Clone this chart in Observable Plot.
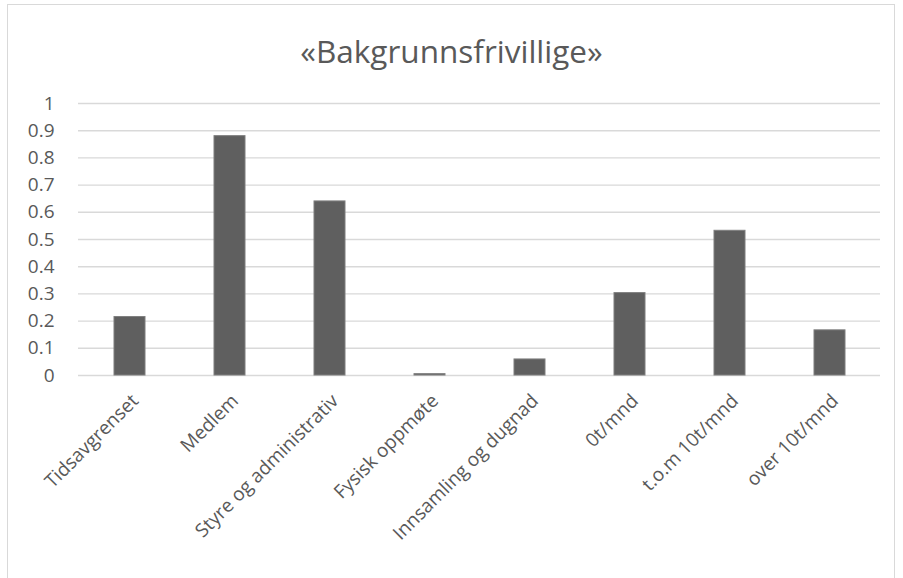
<!DOCTYPE html>
<html><head><meta charset="utf-8">
<script src="https://cdn.jsdelivr.net/npm/d3@7"></script>
<script src="https://cdn.jsdelivr.net/npm/@observablehq/plot@0.6"></script>
<style>
body{margin:0;background:#fff;}
#wrap{position:relative;width:903px;height:578px;overflow:hidden;font-family:"Open Sans",sans-serif;}
#frame{position:absolute;left:7px;top:4px;width:888px;height:600px;border:1px solid #d9d9d9;box-sizing:border-box;}
#title{position:absolute;left:0;top:30px;width:903px;text-align:center;font-size:31.5px;color:#595959;line-height:42px;}
#chart{position:absolute;left:0;top:0;}
</style></head><body>
<div id="wrap"><div id="frame"></div><div id="title">«Bakgrunnsfrivillige»</div><div id="chart"></div></div>
<script>
const categories = ["Tidsavgrenset","Medlem","Styre og administrativ","Fysisk oppmøte","Innsamling og dugnad","0t/mnd","t.o.m 10t/mnd","over 10t/mnd"];
const values = [0.215, 0.88, 0.64, 0.005, 0.059, 0.303, 0.532, 0.166];
const yTicks = [0, 0.1, 0.2, 0.3, 0.4, 0.5, 0.6, 0.7, 0.8, 0.9, 1];
const data = categories.map((c, i) => ({category: c, value: values[i]}));
const chart = Plot.plot({
  width: 903, height: 578,
  marginTop: 103, marginBottom: 203, marginLeft: 78, marginRight: 23,
  style: {fontFamily: '"Open Sans", sans-serif', fontSize: "19px", color: "#595959", background: "transparent"},
  x: {domain: categories, paddingInner: 0.69, paddingOuter: 0.345, axis: null},
  y: {domain: [0, 1], axis: null},
  marks: [
    Plot.gridY(yTicks, {stroke: "#d9d9d9", strokeOpacity: 1, strokeWidth: 1.4}),
    Plot.axisY(yTicks, {tickSize: 0, tickPadding: 24, label: null, tickFormat: d => String(d), fontSize: 19, fill: "#595959"}),
    Plot.barY(data, {x: "category", y: "value", fill: "#5f5f5f", stroke: "#7f7f7f", strokeWidth: 1}),
    Plot.text(categories, {x: d => d, frameAnchor: "bottom", rotate: -45, textAnchor: "end", lineAnchor: "top", dx: 0, dy: 17, fontSize: 19, fill: "#595959"})
  ]
});
document.getElementById("chart").appendChild(chart);
</script>
</body></html>
